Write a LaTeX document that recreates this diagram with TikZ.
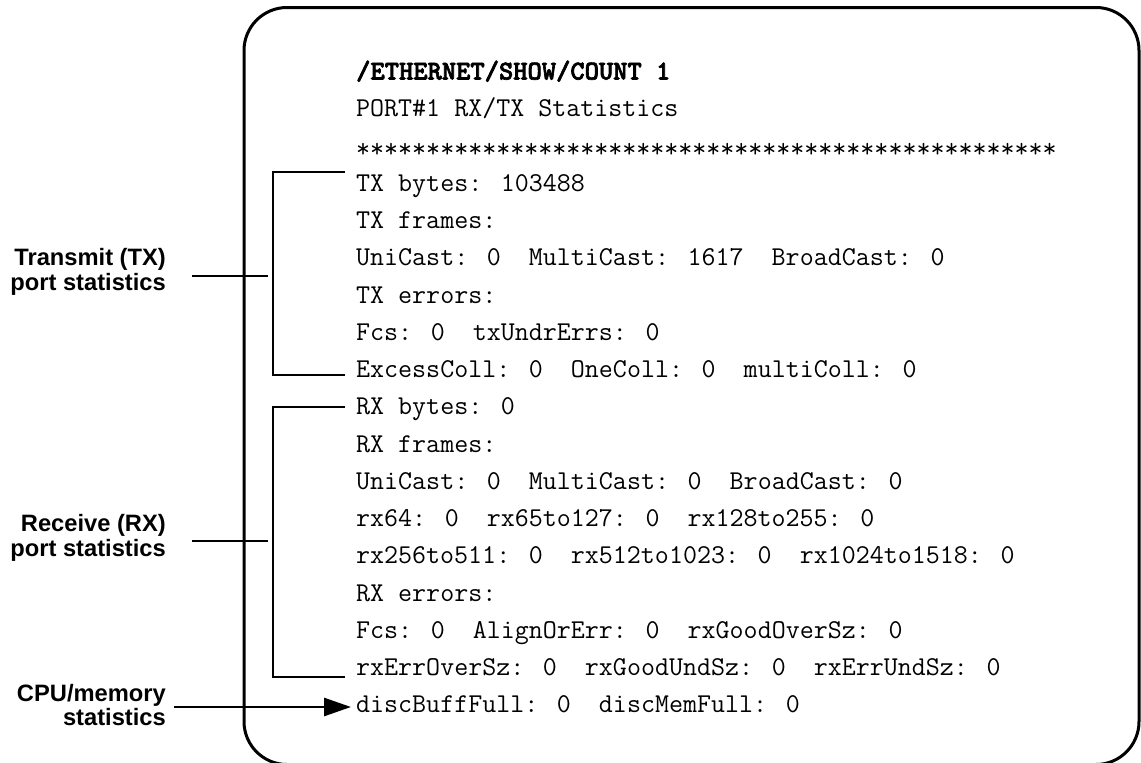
\documentclass[tikz,border=0pt]{standalone}
\usepackage{fontspec}
\newfontfamily\labfont{Liberation Sans}
\newfontfamily\titlefont[FakeBold=2.5]{lmmonolt10-bold.otf}
\usetikzlibrary{arrows.meta}
\tikzset{
  code/.style={anchor=base west, inner sep=0pt, font=\ttfamily\fontsize{27.2}{30}\selectfont},
  lbl/.style={align=right, anchor=east, inner sep=0pt, font=\labfont\bfseries\fontsize{23.7}{24.5}\selectfont},
  brk/.style={line width=2.7pt},
  frame/.style={line width=3pt, rounded corners=43pt}
}
\begin{document}
\begin{tikzpicture}[x=1pt,y=-1pt]
\useasboundingbox (0,0) rectangle (1141,763);
\draw[frame] (244,7.5) rectangle (1139,764.5);
% code lines
\node[code, font=\titlefont\fontsize{27.2}{30}\selectfont] (l0) at (356,79.5) {/ETHERNET/SHOW/COUNT 1};
\node[code] (l1) at (356,116.75) {PORT\#1 RX/TX Statistics};
\node[code] (l2) at (356,157) {**************************************************};
\node[code] (l3) at (356,191.25) {TX bytes: 103488};
\node[code] (l4) at (356,228.5) {TX frames:};
\node[code] (l5) at (356,265.75) {UniCast: 0 ~MultiCast: 1617 ~BroadCast: 0};
\node[code] (l6) at (356,303) {TX errors:};
\node[code] (l7) at (356,340.25) {Fcs: 0 ~txUndrErrs: 0};
\node[code] (l8) at (356,377.5) {ExcessColl: 0 ~OneColl: 0 ~multiColl: 0};
\node[code] (l9) at (356,414.75) {RX bytes: 0};
\node[code] (l10) at (356,452) {RX frames:};
\node[code] (l11) at (356,489.25) {UniCast: 0 ~MultiCast: 0 ~BroadCast: 0};
\node[code] (l12) at (356,526.5) {rx64: 0 ~rx65to127: 0 ~rx128to255: 0};
\node[code] (l13) at (356,563.75) {rx256to511: 0 ~rx512to1023: 0 ~rx1024to1518: 0};
\node[code] (l14) at (356,601) {RX errors:};
\node[code] (l15) at (356,638.25) {Fcs: 0 ~AlignOrErr: 0 ~rxGoodOverSz: 0};
\node[code] (l16) at (356,675.5) {rxErrOverSz: 0 ~rxGoodUndSz: 0 ~rxErrUndSz: 0};
\node[code] (l17) at (356,712.75) {discBuffFull: 0 ~discMemFull: 0};
% labels
\node[lbl] (tx) at (166,272) {Transmit (TX)\\port statistics};
\node[lbl] (rx) at (166,538) {Receive (RX)\\port statistics};
\node[lbl] (cpu) at (166,705) {CPU/memory\\statistics};
% brackets
\coordinate (txtop) at (345,172);
\coordinate (txbot) at (345,375);
\coordinate (txmid) at (273,276);
\coordinate (rxtop) at (345,407);
\coordinate (rxbot) at (345,677);
\coordinate (rxmid) at (273,541);
\coordinate (cputip) at (351,707);
\draw[brk] (txtop) -| (txbot -| txmid) -- (txbot);
\draw[brk] (rxtop) -| (rxbot -| rxmid) -- (rxbot);
\draw[brk] (192,276) coordinate (txs) -- (txmid -| 268,0);
\draw[brk] (192,541) coordinate (rxs) -- (rxmid -| 268,0);
\draw[brk, -{Triangle[length=27pt,width=18pt]}] (174,707) coordinate (cpus) -- (cputip);
\end{tikzpicture}
\end{document}
